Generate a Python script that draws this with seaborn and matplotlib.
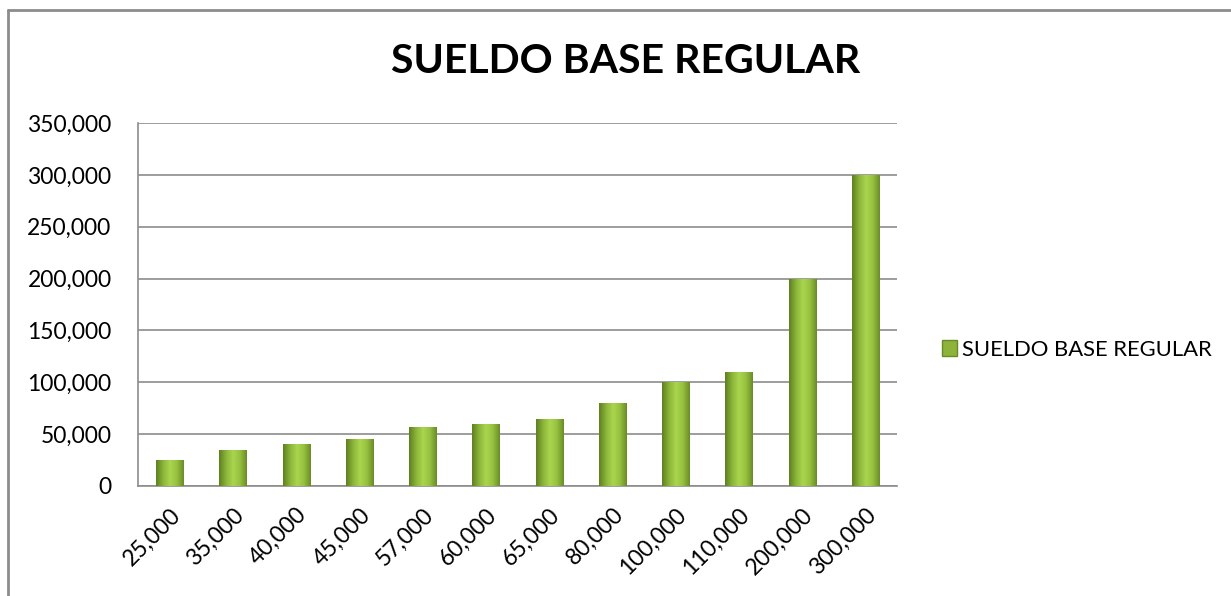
import numpy as np
import pandas as pd
import seaborn as sns
import matplotlib.pyplot as plt
from matplotlib.lines import Line2D
from matplotlib.patches import Patch
from matplotlib.colors import LinearSegmentedColormap

categorias = ["25,000", "35,000", "40,000", "45,000", "57,000", "60,000",
              "65,000", "80,000", "100,000", "110,000", "200,000", "300,000"]
sueldos = [25000, 35000, 40000, 45000, 57000, 60000,
           65000, 80000, 100000, 110000, 200000, 300000]
serie = "SUELDO BASE REGULAR"
yticks = [0, 50000, 100000, 150000, 200000, 250000, 300000, 350000]

sns.set_style("white")
plt.rcParams['font.family'] = ['Lato', 'DejaVu Sans']

df = pd.DataFrame({"cat": categorias, "val": sueldos})

fig = plt.figure(figsize=(12.31, 5.96), dpi=100)
ax = fig.add_axes([0.1121, 0.1846, 0.6166, 0.609])

sns.barplot(data=df, x="cat", y="val", color="#8db33a", width=0.43,
            saturation=1, ax=ax, zorder=3)

# cylinder-like shading on each bar
cmap = LinearSegmentedColormap.from_list(
    "cyl", ["#607f22", "#8ab538", "#aad54f", "#96c23f", "#6b8c28"])
grad = np.linspace(0, 1, 64).reshape(1, -1)
for p in ax.patches:
    x0, y0 = p.get_x(), p.get_y()
    w, h = p.get_width(), p.get_height()
    im = ax.imshow(grad, cmap=cmap, aspect="auto", zorder=4,
                   extent=[x0, x0 + w, y0, y0 + h])
    im.set_clip_path(p)
    p.set_edgecolor("none")

ax.set_xlim(-0.5, len(categorias) - 0.5)
ax.set_ylim(0, 350000)
ax.set_yticks(yticks)
ax.set_yticklabels([f"{v:,}" for v in yticks])
ax.yaxis.grid(True, color="#8c8c8c", linewidth=1.2, zorder=0)
ax.set_axisbelow(True)
ax.set_xlabel("")
ax.set_ylabel("")
ax.tick_params(axis="both", length=0, labelsize=16.5, colors="black")
ax.tick_params(axis="y", pad=19)
ax.tick_params(axis="x", pad=13)
ax.set_xticks(range(len(categorias)))
ax.set_xticklabels(categorias, rotation=45, ha="right", rotation_mode="anchor")
for s in ["top", "right"]:
    ax.spines[s].set_visible(False)
for s in ["left", "bottom"]:
    ax.spines[s].set_color("#8c8c8c")
    ax.spines[s].set_linewidth(1.2)

fig.text(0.508, 0.896, serie, ha="center", va="center",
         fontsize=29.5, fontweight="bold", color="black")

handle = Patch(facecolor="#8db33a", edgecolor="#6a8a27")
fig.legend([handle], [serie], loc="center left", bbox_to_anchor=(0.749, 0.413),
           frameon=False, fontsize=15.8, handlelength=0.7, handleheight=0.7,
           handletextpad=0.2, labelcolor="black")

# outer chart frame (only left and top visible)
fig.add_artist(Line2D([0.0065, 0.0065], [0, 0.983], color="#8c8c8c",
                      linewidth=2, transform=fig.transFigure))
fig.add_artist(Line2D([0.0065, 1], [0.983, 0.983], color="#8c8c8c",
                      linewidth=2, transform=fig.transFigure))

fig.savefig("out.png", dpi=100)
